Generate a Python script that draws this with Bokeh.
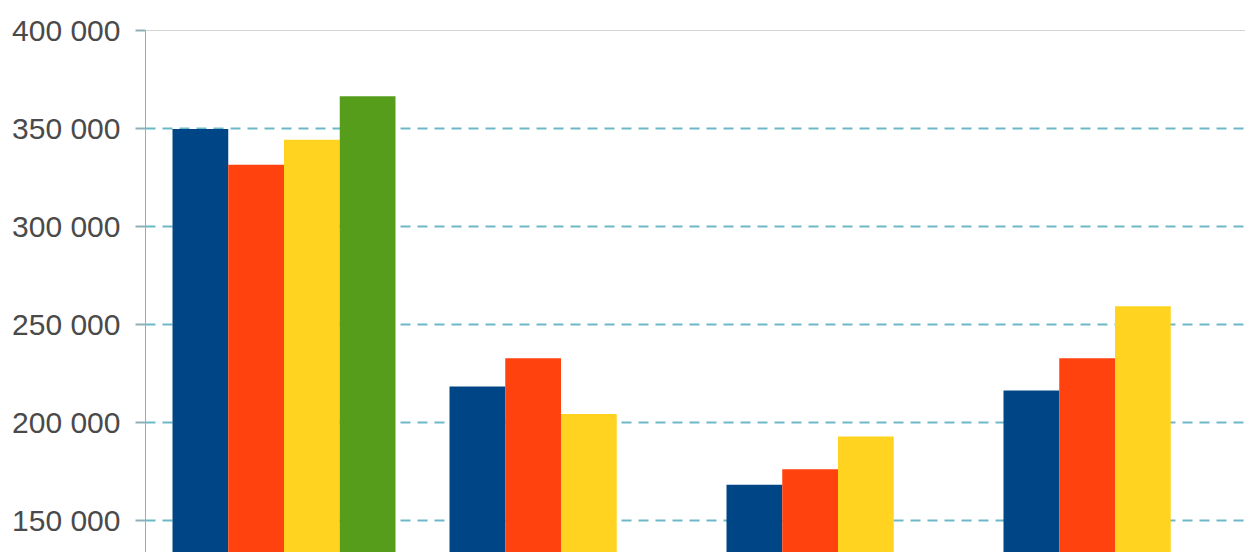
from bokeh.plotting import figure
from bokeh.models import Range1d, FixedTicker, Span, ColumnDataSource
from bokeh.embed import file_html
from bokeh.resources import INLINE

# ---- data ----
categories = ["1", "2", "3", "4"]
series_names = ["Series 1", "Series 2", "Series 3", "Series 4"]
series_blue = [349800, 218400, 168200, 216300]
series_red = [331500, 232800, 176200, 232800]
series_yellow = [344200, 204400, 192900, 259300]
series_green = [366500, None, None, None]
tick_values = [150000, 200000, 250000, 300000, 350000, 400000]
tick_labels = ["150 000", "200 000", "250 000", "300 000", "350 000", "400 000"]
colors = ["#004586", "#ff420e", "#ffd320", "#579d1c"]

all_series = [series_blue, series_red, series_yellow, series_green]

W, H = 1245, 552
left_border, top_border = 145, 30
frame_w = W - left_border
frame_h = H - top_border
cat_px = 277.0
y_top = 400000
px_per_unit = 98.0 / 50000
y_bottom = y_top - frame_h / px_per_unit

p = figure(width=W, height=H, output_backend="svg", toolbar_location=None,
           x_range=Range1d(0, frame_w / cat_px), y_range=Range1d(y_bottom, y_top),
           min_border_left=left_border, min_border_top=top_border,
           min_border_bottom=0, min_border_right=0)

p.background_fill_color = "white"
p.border_fill_color = "white"
p.outline_line_color = None

n = len(all_series)
slot = 55.75 / cat_px
for j, (vals, col) in enumerate(zip(all_series, colors)):
    xs, tops = [], []
    for i, v in enumerate(vals):
        if v is None:
            continue
        xs.append(i + 0.5 + (j - (n - 1) / 2) * slot)
        tops.append(v)
    src = ColumnDataSource(dict(x=xs, top=tops))
    p.vbar(x="x", top="top", bottom=0, width=slot, source=src,
           fill_color=col, line_color=None)

# axes
p.xaxis.visible = False
p.xgrid.visible = False

ya = p.yaxis[0]
ya.ticker = FixedTicker(ticks=tick_values)
ya.major_label_overrides = {v: t for v, t in zip(tick_values, tick_labels)}
ya.major_label_text_font = "Liberation Sans"
ya.major_label_text_font_size = "30px"
ya.major_label_text_color = "#4a4a4a"
ya.major_label_standoff = 15
ya.axis_line_color = "#a8a8a8"
ya.axis_line_width = 1
ya.major_tick_out = 10
ya.major_tick_in = 0
ya.major_tick_line_color = "#8fb0b8"
ya.major_tick_line_width = 2
ya.minor_tick_line_color = None

p.ygrid.ticker = FixedTicker(ticks=tick_values[:-1])
p.ygrid.grid_line_color = "#6cb8c8"
p.ygrid.grid_line_width = 2
p.ygrid.grid_line_dash = "10 7"

top_line = Span(location=y_top, dimension="width", line_color="#a8a8a8", line_width=1)
p.add_layout(top_line)

open("out.html", "w").write(file_html(p, INLINE))
